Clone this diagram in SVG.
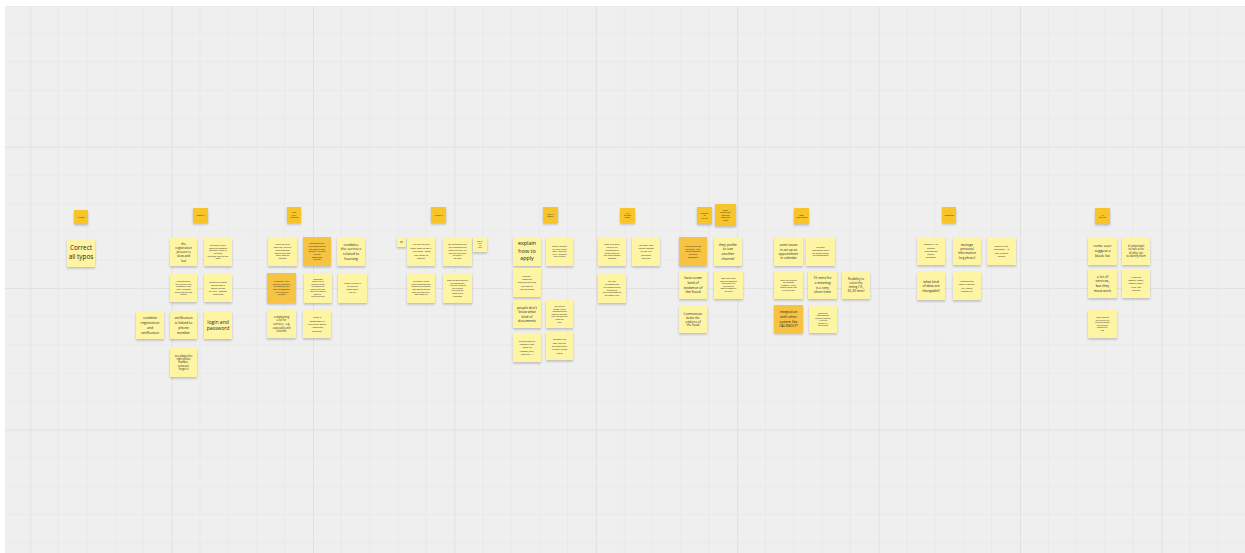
<svg xmlns="http://www.w3.org/2000/svg" width="1245" height="553" viewBox="0 0 1245 553">
<style>
.n{fill:#fdf5a4;filter:url(#sh)}
.d{fill:#f6c443;filter:url(#sh)}
.h{fill:#f7c42b;filter:url(#sh)}
.t{font-family:"Open Sans","Liberation Sans",sans-serif;text-anchor:middle;fill:#1e1e1e}
</style>
<defs>
<filter id="sh" x="-20%" y="-20%" width="140%" height="150%">
<feDropShadow dx="0" dy="1.5" stdDeviation="1" flood-color="#000" flood-opacity="0.22"/>
</filter>
<pattern id="grid" patternUnits="userSpaceOnUse" x="30.2" y="5.3" width="141.4" height="141.4">
<path d="M28.28 0V141.4M56.56 0V141.4M84.84 0V141.4M113.12 0V141.4M0 28.28H141.4M0 56.56H141.4M0 84.84H141.4M0 113.12H141.4" stroke="#e7e7e7" stroke-width="0.8" fill="none"/>
<path d="M0.5 0V141.4M0 0.5H141.4" stroke="#e1e1e1" stroke-width="1" fill="none"/>
</pattern>
</defs>
<rect width="1245" height="553" fill="#ffffff"/>
<rect x="5" y="6" width="1240" height="547" fill="#efefef"/>
<rect x="5" y="6" width="1240" height="547" fill="url(#grid)"/>
<g id="connectors"/>

<g id="typos-header"><rect class="h" x="74" y="210" width="14" height="14"/><text class="t" x="81" y="217.8" font-size="2.2">TYPOS</text></g>
<g id="typos-1"><rect class="n" x="67" y="239" width="28" height="28"/><text class="t" x="81" y="250.2" font-size="6.4"><tspan x="81" dy="0">Correct</tspan><tspan x="81" dy="9">all typos</tspan></text></g>

<g id="login-header"><rect class="h" x="193" y="208" width="15" height="15"/><text class="t" x="200.5" y="216.4" font-size="2.5">LOGIN</text></g>
<g id="login-1"><rect class="n" x="170" y="238" width="27" height="28"/><text class="t" x="183.5" y="244.7" font-size="3.1"><tspan x="183.5" dy="0">the</tspan><tspan x="183.5" dy="4.2">registration</tspan><tspan x="183.5" dy="4.2">process is</tspan><tspan x="183.5" dy="4.2">slow and</tspan><tspan x="183.5" dy="4.2">lost</tspan></text></g>
<g id="login-2"><rect class="n" x="204" y="238" width="28" height="28"/><text class="t" x="218" y="245.9" font-size="2"><tspan x="218" dy="0">for people you're</tspan><tspan x="218" dy="2.7">asked for password</tspan><tspan x="218" dy="2.7">too many times, or</tspan><tspan x="218" dy="2.7">to do the</tspan><tspan x="218" dy="2.7">duplicate login to your</tspan><tspan x="218" dy="2.7">email</tspan></text></g>
<g id="login-3"><rect class="n" x="170" y="274" width="27" height="28"/><text class="t" x="183.5" y="281.9" font-size="2"><tspan x="183.5" dy="0">Understanding</tspan><tspan x="183.5" dy="2.7">the rules for your</tspan><tspan x="183.5" dy="2.7">password is not</tspan><tspan x="183.5" dy="2.7">clear. The steps</tspan><tspan x="183.5" dy="2.7">of the flow are not</tspan><tspan x="183.5" dy="2.7">perfect</tspan></text></g>
<g id="login-4"><rect class="n" x="204" y="274" width="28" height="28"/><text class="t" x="218" y="282.8" font-size="2.3"><tspan x="218" dy="0">annoying reload</tspan><tspan x="218" dy="3">online with a</tspan><tspan x="218" dy="3">double of the</tspan><tspan x="218" dy="3">EVAMC - session</tspan><tspan x="218" dy="3">problems</tspan></text></g>
<g id="login-5"><rect class="n" x="136" y="311" width="28" height="28"/><text class="t" x="150" y="319.1" font-size="3.5"><tspan x="150" dy="0">combine</tspan><tspan x="150" dy="4.8">registration</tspan><tspan x="150" dy="4.8">and</tspan><tspan x="150" dy="4.8">verification</tspan></text></g>
<g id="login-6"><rect class="n" x="170" y="311" width="27" height="28"/><text class="t" x="183.5" y="319.1" font-size="3.5"><tspan x="183.5" dy="0">verification</tspan><tspan x="183.5" dy="4.8">is linked to</tspan><tspan x="183.5" dy="4.8">phone</tspan><tspan x="183.5" dy="4.8">number</tspan></text></g>
<g id="login-7"><rect class="n" x="204" y="311" width="28" height="28"/><text class="t" x="218" y="323.6" font-size="5"><tspan x="218" dy="0">login and</tspan><tspan x="218" dy="6.3">password</tspan></text></g>
<g id="login-8"><rect class="n" x="170" y="348" width="27" height="29"/><text class="t" x="183.5" y="356.6" font-size="2.6"><tspan x="183.5" dy="0">use always the</tspan><tspan x="183.5" dy="3.4">right phone</tspan><tspan x="183.5" dy="3.4">number,</tspan><tspan x="183.5" dy="3.4">someone</tspan><tspan x="183.5" dy="3.4">forgot it</tspan></text></g>

<g id="housing-header"><rect class="h" x="287" y="207" width="14" height="16"/><text class="t" x="294" y="213.3" font-size="1.8"><tspan x="294" dy="0">HELP</tspan><tspan x="294" dy="2.3">WITH</tspan><tspan x="294" dy="2.3">HOUSING</tspan></text></g>
<g id="housing-1"><rect class="n" x="268" y="237" width="29" height="29"/><text class="t" x="282.5" y="245.4" font-size="2"><tspan x="282.5" dy="0">Things could be</tspan><tspan x="282.5" dy="2.7">more fine, we all in</tspan><tspan x="282.5" dy="2.7">good transition</tspan><tspan x="282.5" dy="2.7">now to the form?</tspan><tspan x="282.5" dy="2.7">more. Both on</tspan><tspan x="282.5" dy="2.7">contacts</tspan></text></g>
<g id="housing-2"><rect class="d" x="303" y="237" width="28" height="29"/><text class="t" x="317" y="244.1" font-size="2"><tspan x="317" dy="0">Sometimes they</tspan><tspan x="317" dy="2.7">give something for</tspan><tspan x="317" dy="2.7">the Board a long</tspan><tspan x="317" dy="2.7">housing. We didn't</tspan><tspan x="317" dy="2.7">include</tspan><tspan x="317" dy="2.7">sometimes</tspan><tspan x="317" dy="2.7">services</tspan></text></g>
<g id="housing-3"><rect class="n" x="337" y="237" width="28" height="29"/><text class="t" x="351" y="245.5" font-size="3.7"><tspan x="351" dy="0">combine</tspan><tspan x="351" dy="4.9">the services</tspan><tspan x="351" dy="4.9">related to</tspan><tspan x="351" dy="4.9">housing</tspan></text></g>
<g id="housing-4"><rect class="d" x="267" y="273" width="29" height="30"/><text class="t" x="281.5" y="281.9" font-size="2"><tspan x="281.5" dy="0">In summer - they</tspan><tspan x="281.5" dy="2.7">have an interest in</tspan><tspan x="281.5" dy="2.7">the content, and</tspan><tspan x="281.5" dy="2.7">they get someone</tspan><tspan x="281.5" dy="2.7">- in 97 hours or</tspan><tspan x="281.5" dy="2.7">2 Portals</tspan></text></g>
<g id="housing-5"><rect class="n" x="304" y="273" width="28" height="30"/><text class="t" x="318" y="279.9" font-size="1.8"><tspan x="318" dy="0">Sometimes</tspan><tspan x="318" dy="2.5">people use its</tspan><tspan x="318" dy="2.5">content in other</tspan><tspan x="318" dy="2.5">explanation on</tspan><tspan x="318" dy="2.5">special page they</tspan><tspan x="318" dy="2.5">were they allow an</tspan><tspan x="318" dy="2.5">aware of...</tspan><tspan x="318" dy="2.5">at the beginning</tspan></text></g>
<g id="housing-6"><rect class="n" x="338" y="273" width="29" height="30"/><text class="t" x="352.5" y="284.4" font-size="2.2"><tspan x="352.5" dy="0">Create a form in</tspan><tspan x="352.5" dy="2.9">the waiting</tspan><tspan x="352.5" dy="2.9">room about</tspan><tspan x="352.5" dy="2.9">the city</tspan></text></g>
<g id="housing-7"><rect class="n" x="267" y="310" width="29" height="28"/><text class="t" x="281.5" y="317.8" font-size="2.7"><tspan x="281.5" dy="0">complaining</tspan><tspan x="281.5" dy="3.6">a lot for</tspan><tspan x="281.5" dy="3.6">services - e.g.</tspan><tspan x="281.5" dy="3.6">especially and</tspan><tspan x="281.5" dy="3.6">election</tspan></text></g>
<g id="housing-8"><rect class="n" x="303" y="310" width="28" height="28"/><text class="t" x="317" y="318.3" font-size="2.5"><tspan x="317" dy="0">Make a</tspan><tspan x="317" dy="3.3">homepage in</tspan><tspan x="317" dy="3.3">the office space</tspan><tspan x="317" dy="3.3">- grouping</tspan><tspan x="317" dy="3.3">services</tspan></text></g>

<g id="appeal-header"><rect class="h" x="431" y="207" width="15" height="16"/><text class="t" x="438.5" y="215.8" font-size="2.4">APPEAL</text></g>
<g id="appeal-0"><rect class="n" x="397" y="237" width="9" height="10"/><text class="t" x="401.5" y="241.6" font-size="1.2"><tspan x="401.5" dy="0">small</tspan><tspan x="401.5" dy="1.6">note</tspan></text></g>
<g id="appeal-1"><rect class="n" x="407" y="237" width="28" height="29"/><text class="t" x="421" y="245.4" font-size="2.5"><tspan x="421" dy="0">It is not entirely</tspan><tspan x="421" dy="3.5">clear how to use it</tspan><tspan x="421" dy="3.5">- the form - what</tspan><tspan x="421" dy="3.5">you need to</tspan><tspan x="421" dy="3.5">appeal</tspan></text></g>
<g id="appeal-2"><rect class="n" x="443" y="237" width="29" height="29"/><text class="t" x="457.5" y="245.4" font-size="2"><tspan x="457.5" dy="0">the explanation text</tspan><tspan x="457.5" dy="2.7">on is impossible to</tspan><tspan x="457.5" dy="2.7">make everyone. It's</tspan><tspan x="457.5" dy="2.7">clear for everybody</tspan><tspan x="457.5" dy="2.7">to check if</tspan><tspan x="457.5" dy="2.7">we time</tspan></text></g>
<g id="appeal-3"><rect class="n" x="473" y="237" width="14" height="15"/><text class="t" x="480" y="242.4" font-size="1.3"><tspan x="480" dy="0">some text</tspan><tspan x="480" dy="1.7">about</tspan><tspan x="480" dy="1.7">the</tspan><tspan x="480" dy="1.7">appeal</tspan></text></g>
<g id="appeal-4"><rect class="n" x="407" y="273" width="28" height="30"/><text class="t" x="421" y="281.9" font-size="2"><tspan x="421" dy="0">No change. There</tspan><tspan x="421" dy="2.7">were problems with</tspan><tspan x="421" dy="2.7">receiving the already</tspan><tspan x="421" dy="2.7">used appeal for the</tspan><tspan x="421" dy="2.7">form, the FORMULA</tspan><tspan x="421" dy="2.7">and history to</tspan></text></g>
<g id="appeal-5"><rect class="n" x="443" y="273" width="29" height="30"/><text class="t" x="457.5" y="280.9" font-size="1.9"><tspan x="457.5" dy="0">some personal data are</tspan><tspan x="457.5" dy="2.6">not immediately</tspan><tspan x="457.5" dy="2.6">if you get a form of</tspan><tspan x="457.5" dy="2.6">the relevant</tspan><tspan x="457.5" dy="2.6">service to the</tspan><tspan x="457.5" dy="2.6">formula and</tspan><tspan x="457.5" dy="2.6">submitted</tspan></text></g>

<g id="social-header"><rect class="h" x="543" y="207" width="15" height="16"/><text class="t" x="550.5" y="214.5" font-size="1.9"><tspan x="550.5" dy="0">SOCIAL</tspan><tspan x="550.5" dy="2.4">GROUP</tspan></text></g>
<g id="social-1"><rect class="n" x="513" y="237" width="28" height="29"/><text class="t" x="527" y="244.7" font-size="5.4"><tspan x="527" dy="0">explain</tspan><tspan x="527" dy="7.8">how to</tspan><tspan x="527" dy="7.8">apply</tspan></text></g>
<g id="social-2"><rect class="n" x="546" y="237" width="27" height="29"/><text class="t" x="559.5" y="247" font-size="1.9"><tspan x="559.5" dy="0">people, question</tspan><tspan x="559.5" dy="2.6">you have right to</tspan><tspan x="559.5" dy="2.6">apply, that's well</tspan><tspan x="559.5" dy="2.6">build - confused</tspan><tspan x="559.5" dy="2.6">even in score</tspan></text></g>
<g id="social-3"><rect class="n" x="513" y="268" width="28" height="29"/><text class="t" x="527" y="276.9" font-size="2.4"><tspan x="527" dy="0">catalog -</tspan><tspan x="527" dy="3.2">combine</tspan><tspan x="527" dy="3.2">housing services</tspan><tspan x="527" dy="3.2">into one of</tspan><tspan x="527" dy="3.2">the headings</tspan></text></g>
<g id="social-4"><rect class="n" x="513" y="300" width="28" height="28"/><text class="t" x="527" y="308.5" font-size="3.4"><tspan x="527" dy="0">people don't</tspan><tspan x="527" dy="4.5">know what</tspan><tspan x="527" dy="4.5">kind of</tspan><tspan x="527" dy="4.5">documents</tspan></text></g>
<g id="social-5"><rect class="n" x="546" y="300" width="27" height="28"/><text class="t" x="559.5" y="306.9" font-size="1.9"><tspan x="559.5" dy="0">you need to</tspan><tspan x="559.5" dy="2.6">upload a lot of</tspan><tspan x="559.5" dy="2.6">documents with</tspan><tspan x="559.5" dy="2.6">different sections,</tspan><tspan x="559.5" dy="2.6">they uploaded the</tspan><tspan x="559.5" dy="2.6">same set</tspan><tspan x="559.5" dy="2.6">here</tspan></text></g>
<g id="social-6"><rect class="n" x="513" y="333" width="28" height="29"/><text class="t" x="527" y="341.8" font-size="2.5"><tspan x="527" dy="0">explain which</tspan><tspan x="527" dy="3.3">formats they</tspan><tspan x="527" dy="3.3">need to</tspan><tspan x="527" dy="3.3">upload (PDF,</tspan><tspan x="527" dy="3.3">JPEG etc...)</tspan></text></g>
<g id="social-7"><rect class="n" x="546" y="332" width="27" height="28"/><text class="t" x="559.5" y="340.3" font-size="2.5"><tspan x="559.5" dy="0">rename the</tspan><tspan x="559.5" dy="3.3">doc you get</tspan><tspan x="559.5" dy="3.3">automatically</tspan><tspan x="559.5" dy="3.3">to easy divide</tspan><tspan x="559.5" dy="3.3">them</tspan></text></g>

<g id="support-header"><rect class="h" x="620" y="208" width="15" height="15"/><text class="t" x="627.5" y="214" font-size="1.6"><tspan x="627.5" dy="0">LIVE</tspan><tspan x="627.5" dy="2.1">SUPPORT</tspan><tspan x="627.5" dy="2.1">GROUP</tspan></text></g>
<g id="support-1"><rect class="n" x="598" y="237" width="28" height="29"/><text class="t" x="612" y="245.4" font-size="2"><tspan x="612" dy="0">some give to the</tspan><tspan x="612" dy="2.7">right list, an</tspan><tspan x="612" dy="2.7">explanation of</tspan><tspan x="612" dy="2.7">what to send to</tspan><tspan x="612" dy="2.7">the direct contact</tspan><tspan x="612" dy="2.7">assistant</tspan></text></g>
<g id="support-2"><rect class="n" x="632" y="237" width="28" height="29"/><text class="t" x="646" y="245.6" font-size="2.5"><tspan x="646" dy="0">the easy and</tspan><tspan x="646" dy="3.4">visible access</tspan><tspan x="646" dy="3.4">to the INF</tspan><tspan x="646" dy="3.4">services</tspan><tspan x="646" dy="3.4">section</tspan></text></g>
<g id="support-3"><rect class="n" x="598" y="274" width="28" height="29"/><text class="t" x="612" y="282.4" font-size="2"><tspan x="612" dy="0">The user</tspan><tspan x="612" dy="2.7">suggested that</tspan><tspan x="612" dy="2.7">the balance of the</tspan><tspan x="612" dy="2.7">request for</tspan><tspan x="612" dy="2.7">the explanations on</tspan><tspan x="612" dy="2.7">the matter (link)</tspan></text></g>

<g id="fraud-header"><rect class="h" x="697" y="207" width="15" height="17"/><text class="t" x="704.5" y="213.6" font-size="2"><tspan x="704.5" dy="0">REPORT</tspan><tspan x="704.5" dy="2.6">&amp;</tspan><tspan x="704.5" dy="2.6">FRAUD</tspan></text></g>
<g id="fraud-header-2"><rect class="h" x="715" y="204" width="21" height="22"/><text class="t" x="725.5" y="210.5" font-size="1.9"><tspan x="725.5" dy="0">make</tspan><tspan x="725.5" dy="2.6">reports and</tspan><tspan x="725.5" dy="2.6">send out</tspan><tspan x="725.5" dy="2.6">difficulties</tspan><tspan x="725.5" dy="2.6">fraud</tspan></text></g>
<g id="fraud-1"><rect class="d" x="679" y="237" width="28" height="29"/><text class="t" x="693" y="246.8" font-size="2"><tspan x="693" dy="0">people could not</tspan><tspan x="693" dy="2.7">the portal - they</tspan><tspan x="693" dy="2.7">find evidence of</tspan><tspan x="693" dy="2.7">the fraud</tspan><tspan x="693" dy="2.7">committed</tspan></text></g>
<g id="fraud-2"><rect class="n" x="714" y="237" width="28" height="29"/><text class="t" x="728" y="245.7" font-size="3.5"><tspan x="728" dy="0">they prefer</tspan><tspan x="728" dy="4.7">to use</tspan><tspan x="728" dy="4.7">another</tspan><tspan x="728" dy="4.7">channel</tspan></text></g>
<g id="fraud-3"><rect class="n" x="679" y="271" width="28" height="28"/><text class="t" x="693" y="279.2" font-size="3.5"><tspan x="693" dy="0">have some</tspan><tspan x="693" dy="4.7">kind of</tspan><tspan x="693" dy="4.7">evidence of</tspan><tspan x="693" dy="4.7">the fraud</tspan></text></g>
<g id="fraud-4"><rect class="n" x="714" y="271" width="29" height="28"/><text class="t" x="728.5" y="279.4" font-size="1.8"><tspan x="728.5" dy="0">some more detail</tspan><tspan x="728.5" dy="2.5">about the complaint</tspan><tspan x="728.5" dy="2.5">and to then you</tspan><tspan x="728.5" dy="2.5">can send the</tspan><tspan x="728.5" dy="2.5">official message of</tspan><tspan x="728.5" dy="2.5">the fraud</tspan></text></g>
<g id="fraud-5"><rect class="n" x="679" y="306" width="28" height="27"/><text class="t" x="693" y="314.7" font-size="2.9"><tspan x="693" dy="0">Communicate</tspan><tspan x="693" dy="3.9">better the</tspan><tspan x="693" dy="3.9">evidence of</tspan><tspan x="693" dy="3.9">the fraud</tspan></text></g>

<g id="booking-header"><rect class="h" x="794" y="208" width="15" height="16"/><text class="t" x="801.5" y="215.5" font-size="1.7"><tspan x="801.5" dy="0">BOOK</tspan><tspan x="801.5" dy="2.2">APPOINTMENT</tspan></text></g>
<g id="booking-1"><rect class="n" x="774" y="237" width="29" height="29"/><text class="t" x="788.5" y="246.2" font-size="3.2"><tspan x="788.5" dy="0">some issues</tspan><tspan x="788.5" dy="4.3">in set up an</tspan><tspan x="788.5" dy="4.3">appointment</tspan><tspan x="788.5" dy="4.3">in calendar</tspan></text></g>
<g id="booking-2"><rect class="n" x="806" y="237" width="29" height="29"/><text class="t" x="820.5" y="248.1" font-size="2"><tspan x="820.5" dy="0">get more</tspan><tspan x="820.5" dy="2.7">information about</tspan><tspan x="820.5" dy="2.7">the person before</tspan><tspan x="820.5" dy="2.7">the appointment</tspan></text></g>
<g id="booking-3"><rect class="n" x="774" y="271" width="29" height="28"/><text class="t" x="788.5" y="280.5" font-size="1.9"><tspan x="788.5" dy="0">when you received</tspan><tspan x="788.5" dy="2.6">the message</tspan><tspan x="788.5" dy="2.6">customer - when</tspan><tspan x="788.5" dy="2.6">booking email sent</tspan><tspan x="788.5" dy="2.6">by SMS or mail</tspan></text></g>
<g id="booking-4"><rect class="n" x="808" y="271" width="29" height="28"/><text class="t" x="822.5" y="279.2" font-size="3.5"><tspan x="822.5" dy="0">15 mins for</tspan><tspan x="822.5" dy="4.7">a meeting</tspan><tspan x="822.5" dy="4.7">is a very</tspan><tspan x="822.5" dy="4.7">short time</tspan></text></g>
<g id="booking-5"><rect class="n" x="842" y="271" width="28" height="28"/><text class="t" x="856" y="280.1" font-size="3"><tspan x="856" dy="0">flexibility to</tspan><tspan x="856" dy="4">select the</tspan><tspan x="856" dy="4">timing (15,</tspan><tspan x="856" dy="4">30, 60 mins)</tspan></text></g>
<g id="booking-6"><rect class="d" x="774" y="305" width="29" height="28"/><text class="t" x="788.5" y="313.2" font-size="3.5"><tspan x="788.5" dy="0">integration</tspan><tspan x="788.5" dy="4.7">with other</tspan><tspan x="788.5" dy="4.7">system like</tspan><tspan x="788.5" dy="4.7">CALENDLY?</tspan></text></g>
<g id="booking-7"><rect class="n" x="809" y="306" width="28" height="27"/><text class="t" x="823" y="313.9" font-size="1.8"><tspan x="823" dy="0">most of the</tspan><tspan x="823" dy="2.5">administration</tspan><tspan x="823" dy="2.5">should be possible</tspan><tspan x="823" dy="2.5">if you can</tspan><tspan x="823" dy="2.5">choose it in</tspan><tspan x="823" dy="2.5">the calendar</tspan></text></g>

<g id="profile-header"><rect class="h" x="942" y="207" width="14" height="16"/><text class="t" x="949" y="215.8" font-size="2.3">PROFILE</text></g>
<g id="profile-1"><rect class="n" x="917" y="237" width="28" height="28"/><text class="t" x="931" y="245.4" font-size="2.4"><tspan x="931" dy="0">possibility to</tspan><tspan x="931" dy="3.2">change</tspan><tspan x="931" dy="3.2">information</tspan><tspan x="931" dy="3.2">(name,</tspan><tspan x="931" dy="3.2">surname)</tspan></text></g>
<g id="profile-2"><rect class="n" x="953" y="237" width="28" height="28"/><text class="t" x="967" y="245.6" font-size="3.3"><tspan x="967" dy="0">manage</tspan><tspan x="967" dy="4.4">personal</tspan><tspan x="967" dy="4.4">information</tspan><tspan x="967" dy="4.4">(e.g photo)</tspan></text></g>
<g id="profile-3"><rect class="n" x="987" y="237" width="29" height="28"/><text class="t" x="1001.5" y="247" font-size="2.5"><tspan x="1001.5" dy="0">photo is not</tspan><tspan x="1001.5" dy="3.3">necessary - is</tspan><tspan x="1001.5" dy="3.3">not a social</tspan><tspan x="1001.5" dy="3.3">media</tspan></text></g>
<g id="profile-4"><rect class="n" x="917" y="272" width="28" height="28"/><text class="t" x="931" y="282.7" font-size="3.4"><tspan x="931" dy="0">what kind</tspan><tspan x="931" dy="4.5">of data are</tspan><tspan x="931" dy="4.5">changable?</tspan></text></g>
<g id="profile-5"><rect class="n" x="953" y="272" width="28" height="28"/><text class="t" x="967" y="282" font-size="2.5"><tspan x="967" dy="0">information</tspan><tspan x="967" dy="3.3">about contact</tspan><tspan x="967" dy="3.3">(tel, email,</tspan><tspan x="967" dy="3.3">phone etc</tspan></text></g>

<g id="services-header"><rect class="h" x="1095" y="208" width="15" height="16"/><text class="t" x="1102.5" y="215.5" font-size="1.6"><tspan x="1102.5" dy="0">ALL</tspan><tspan x="1102.5" dy="2.1">SERVICES</tspan></text></g>
<g id="services-1"><rect class="n" x="1088" y="237" width="29" height="28"/><text class="t" x="1102.5" y="247.4" font-size="3.7"><tspan x="1102.5" dy="0">some user</tspan><tspan x="1102.5" dy="4.9">suggest a</tspan><tspan x="1102.5" dy="4.9">black list</tspan></text></g>
<g id="services-2"><rect class="n" x="1122" y="237" width="28" height="28"/><text class="t" x="1136" y="246.7" font-size="2.6"><tspan x="1136" dy="0">it's important</tspan><tspan x="1136" dy="3.5">to have a list</tspan><tspan x="1136" dy="3.5">of other site</tspan><tspan x="1136" dy="3.5">to identify them</tspan></text></g>
<g id="services-3"><rect class="n" x="1088" y="269" width="29" height="29"/><text class="t" x="1102.5" y="277.7" font-size="3.5"><tspan x="1102.5" dy="0">a lot of</tspan><tspan x="1102.5" dy="4.7">services,</tspan><tspan x="1102.5" dy="4.7">but they</tspan><tspan x="1102.5" dy="4.7">must work</tspan></text></g>
<g id="services-4"><rect class="n" x="1122" y="269" width="28" height="29"/><text class="t" x="1136" y="277.8" font-size="2.5"><tspan x="1136" dy="0">if service</tspan><tspan x="1136" dy="3.3">doesn't work,</tspan><tspan x="1136" dy="3.3">people don't</tspan><tspan x="1136" dy="3.3">trust the</tspan><tspan x="1136" dy="3.3">system</tspan></text></g>
<g id="services-5"><rect class="n" x="1088" y="310" width="29" height="28"/><text class="t" x="1102.5" y="318.4" font-size="1.8"><tspan x="1102.5" dy="0">people suggest</tspan><tspan x="1102.5" dy="2.5">the list of all the</tspan><tspan x="1102.5" dy="2.5">services/domains</tspan><tspan x="1102.5" dy="2.5">with certified</tspan><tspan x="1102.5" dy="2.5">compatibility</tspan><tspan x="1102.5" dy="2.5">that</tspan></text></g>
</svg>
